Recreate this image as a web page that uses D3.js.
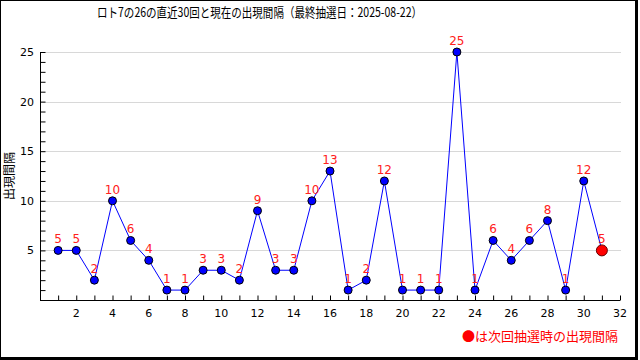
<!DOCTYPE html>
<html>
<head>
<meta charset="utf-8">
<script src="https://cdn.jsdelivr.net/npm/d3@7"></script>
<style>
  body { margin: 0; background: #fff; }
  svg { display: block; font-family: "DejaVu Sans", "Noto Sans CJK JP", sans-serif; }
</style>
</head>
<body>
<svg id="chart" width="640" height="360"></svg>
<script>
// past 30 draws and their intervals
const draws = d3.range(1, 31);
const intervals = [5, 5, 2, 10, 6, 4, 1, 1, 3, 3, 2, 9, 3, 3, 10, 13, 1, 2, 12, 1, 1, 1, 25, 1, 6, 4, 6, 8, 1, 12];
const nextDraw = 31;
const nextInterval = 5;
const xTicks = [2, 4, 6, 8, 10, 12, 14, 16, 18, 20, 22, 24, 26, 28, 30, 32];
const yTicks = [5, 10, 15, 20, 25];

const svg = d3.select("#chart");
const jp = '"Noto Sans CJK JP", "DejaVu Sans", sans-serif';

// frame
svg.append("rect").attr("x", 0.5).attr("y", 0.5).attr("width", 635).attr("height", 357)
    .attr("fill", "none").attr("stroke", "#000");
svg.append("line").attr("x1", 637).attr("x2", 637).attr("y1", 0).attr("y2", 359).attr("stroke", "#000").attr("stroke-width", 2);
svg.append("line").attr("x1", 0).attr("x2", 638).attr("y1", 359).attr("y2", 359).attr("stroke", "#000").attr("stroke-width", 2);

const x = d3.scaleLinear().domain([0, 32]).range([40, 620]);
const y = d3.scaleLinear().domain([0, 25]).range([300, 52]);

// grid
svg.append("g").selectAll("line").data(yTicks).enter().append("line")
    .attr("x1", 40).attr("x2", 621)
    .attr("y1", d => Math.round(y(d)) + 0.5).attr("y2", d => Math.round(y(d)) + 0.5)
    .attr("stroke", "#d8d8d8");

// axes with inward ticks
const xAxis = svg.append("g").attr("transform", "translate(0,300.5)")
    .call(d3.axisTop(x).tickValues(d3.range(1, 33)).tickSize(5).tickFormat(""));
xAxis.select(".domain").attr("d", "M40,0H620");
xAxis.selectAll(".tick line").attr("stroke", "#000");
svg.append("g").selectAll("text").data(xTicks).enter().append("text")
    .attr("x", d => x(d)).attr("y", 317)
    .attr("text-anchor", "middle").attr("font-size", 11).attr("fill", "#000")
    .text(d => d);

const yAxis = svg.append("g").attr("transform", "translate(40.5,0)")
    .call(d3.axisRight(y).tickValues(d3.range(1, 26)).tickSize(5).tickFormat(""));
yAxis.select(".domain").attr("d", "M0,52V300");
svg.append("g").selectAll("text").data(yTicks).enter().append("text")
    .attr("x", 34).attr("y", d => y(d) + 4)
    .attr("text-anchor", "end").attr("font-size", 11).attr("fill", "#000")
    .text(d => d);

// line
const pts = draws.map((d, i) => [d, intervals[i]]);
const all = pts.concat([[nextDraw, nextInterval]]);
svg.append("path").datum(all)
    .attr("d", d3.line().x(d => x(d[0])).y(d => y(d[1])))
    .attr("fill", "none").attr("stroke", "#0000ff").attr("stroke-width", 1);

svg.append("g").selectAll("circle").data(pts).enter().append("circle")
    .attr("cx", d => x(d[0])).attr("cy", d => y(d[1])).attr("r", 4)
    .attr("fill", "#0000ff").attr("stroke", "#000").attr("stroke-width", 1);

svg.append("circle").attr("cx", x(nextDraw)).attr("cy", y(nextInterval)).attr("r", 5.5)
    .attr("fill", "#ff0000").attr("stroke", "#600").attr("stroke-width", 1);

// value labels
svg.append("g").selectAll("text").data(all).enter().append("text")
    .attr("x", d => x(d[0])).attr("y", d => y(d[1]) - 7)
    .attr("text-anchor", "middle").attr("font-size", 12).attr("fill", "#ff2020")
    .text(d => d[1]);

// title
svg.append("text").attr("x", 97).attr("y", 17)
    .attr("font-size", 13).attr("font-family", jp).attr("fill", "#000")
    .attr("textLength", 325).attr("lengthAdjust", "spacingAndGlyphs")
    .text("ロト7の26の直近30回と現在の出現間隔（最終抽選日：2025-08-22）");

// y label
svg.append("text").attr("transform", "translate(14,176) rotate(-90)")
    .attr("text-anchor", "middle").attr("font-size", 12).attr("font-family", jp).attr("fill", "#000")
    .text("出現間隔");

// note
svg.append("text").attr("x", 618).attr("y", 341)
    .attr("text-anchor", "end").attr("font-size", 13).attr("font-family", jp).attr("fill", "#ff0000")
    .text("●は次回抽選時の出現間隔");
</script>
</body>
</html>
